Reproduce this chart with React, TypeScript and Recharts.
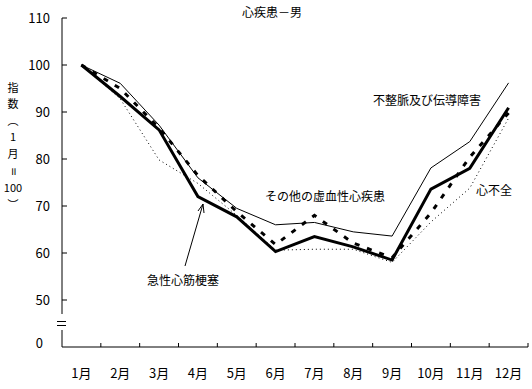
import { LineChart, Line, XAxis, YAxis } from 'recharts';

const months = ['1月', '2月', '3月', '4月', '5月', '6月', '7月', '8月', '9月', '10月', '11月', '12月'];
const monthNo = [1, 2, 3, 4, 5, 6, 7, 8, 9, 10, 11, 12];

// 指数（1月=100）
const ami = [100, 93.3, 86.2, 72, 67.7, 60.3, 63.5, 61.3, 58.5, 73.6, 78, 90.9];
const arrhythmia = [100, 96.1, 87.2, 76, 69.5, 66, 66.5, 64.5, 63.6, 78.1, 83.7, 96.2];
const otherIhd = [100, 95, 86.6, 76.5, 68.8, 61.8, 68, 62.1, 59, 68.5, 80.4, 89.8];
const heartFailure = [100, 92.8, 79.8, 74.8, 68, 60.6, 60.8, 60.8, 58, 66.6, 73.8, 88.7];

const yTicks = [40, 50, 60, 70, 80, 90, 100, 110];

const data = monthNo.map((n, i) => ({
  n,
  ami: ami[i],
  arrhythmia: arrhythmia[i],
  otherIhd: otherIhd[i],
  heartFailure: heartFailure[i],
}));

const FONT = '"Noto Sans CJK JP", sans-serif';
const HALF_BAND = 466 / 24;

const XTick = (props: any) => {
  const { x, y, payload } = props;
  return (
    <g>
      <line x1={x + HALF_BAND} y1={y - 4} x2={x + HALF_BAND} y2={y} stroke="#000" />
      <text x={x} y={y + 31} textAnchor="middle" fontSize={13} fontFamily={FONT} fill="#000">
        {months[payload.value - 1]}
      </text>
    </g>
  );
};

const YTick = (props: any) => {
  const { x, y, payload } = props;
  const isZero = payload.value === 40;
  return (
    <g>
      {!isZero && <line x1={x} y1={y} x2={x + 5} y2={y} stroke="#000" />}
      <text
        x={isZero ? x - 19 : x - 12}
        y={isZero ? y - 4 : y}
        dy={5}
        textAnchor="end"
        fontSize={13}
        fontFamily={FONT}
        fill="#000"
      >
        {isZero ? '0' : payload.value}
      </text>
    </g>
  );
};

const txt = { fontSize: 12, fontFamily: FONT, fill: '#000' };

export default function App() {
  return (
    <div style={{ position: 'absolute', left: 0, top: 0, width: 532, height: 389, background: '#fff' }}>
      <LineChart width={532} height={389} data={data} margin={{ top: 18, right: 4, left: 0, bottom: 0 }}>
        <XAxis
          dataKey="n"
          type="number"
          domain={[0.5, 12.5]}
          ticks={monthNo}
          height={42}
          tickLine={false}
          tickSize={0}
          tickMargin={0}
          tick={<XTick />}
          axisLine={{ stroke: '#000' }}
          interval={0}
        />
        <YAxis
          type="number"
          domain={[40, 110]}
          ticks={yTicks}
          width={62}
          tickLine={false}
          tickSize={0}
          tickMargin={0}
          tick={<YTick />}
          axisLine={{ stroke: '#000' }}
          interval={0}
        />
        <Line dataKey="heartFailure" stroke="#000" strokeWidth={1} strokeDasharray="1 3" dot={false} isAnimationActive={false} />
        <Line dataKey="arrhythmia" stroke="#000" strokeWidth={1} dot={false} isAnimationActive={false} />
        <Line dataKey="otherIhd" stroke="#000" strokeWidth={3} strokeDasharray="5 8" dot={false} isAnimationActive={false} />
        <Line dataKey="ami" stroke="#000" strokeWidth={3} dot={false} isAnimationActive={false} />
      </LineChart>
      <svg width={532} height={389} style={{ position: 'absolute', left: 0, top: 0, pointerEvents: 'none' }}>
        <text x={272} y={17} textAnchor="middle" {...txt}>心疾患－男</text>
        <text x={373} y={105} {...txt}>不整脈及び伝導障害</text>
        <text x={265} y={201} {...txt}>その他の虚血性心疾患</text>
        <text x={476} y={195} {...txt}>心不全</text>
        <text x={147} y={285} {...txt}>急性心筋梗塞</text>
        <line x1={185} y1={266} x2={203} y2={204} stroke="#000" />
        <polyline points="198,211 203,204 204,213" fill="none" stroke="#000" />
        {/* axis break */}
        <rect x={59} y={314} width={6} height={16} fill="#fff" />
        <line x1={57} y1={321.5} x2={66} y2={321.5} stroke="#000" />
        <line x1={57} y1={325.5} x2={66} y2={325.5} stroke="#000" />
        {/* vertical axis title */}
        <text fontSize={11} fontFamily={FONT} fill="#000" textAnchor="middle">
          <tspan x={13} y={92}>指</tspan>
          <tspan x={13} y={108}>数</tspan>
          <tspan x={13} y={125}>︵</tspan>
          <tspan x={13} y={141}>1</tspan>
          <tspan x={13} y={158}>月</tspan>
          <tspan x={13} y={175}>॥</tspan>
          <tspan x={13} y={192}>100</tspan>
          <tspan x={13} y={209}>︶</tspan>
        </text>
      </svg>
    </div>
  );
}
